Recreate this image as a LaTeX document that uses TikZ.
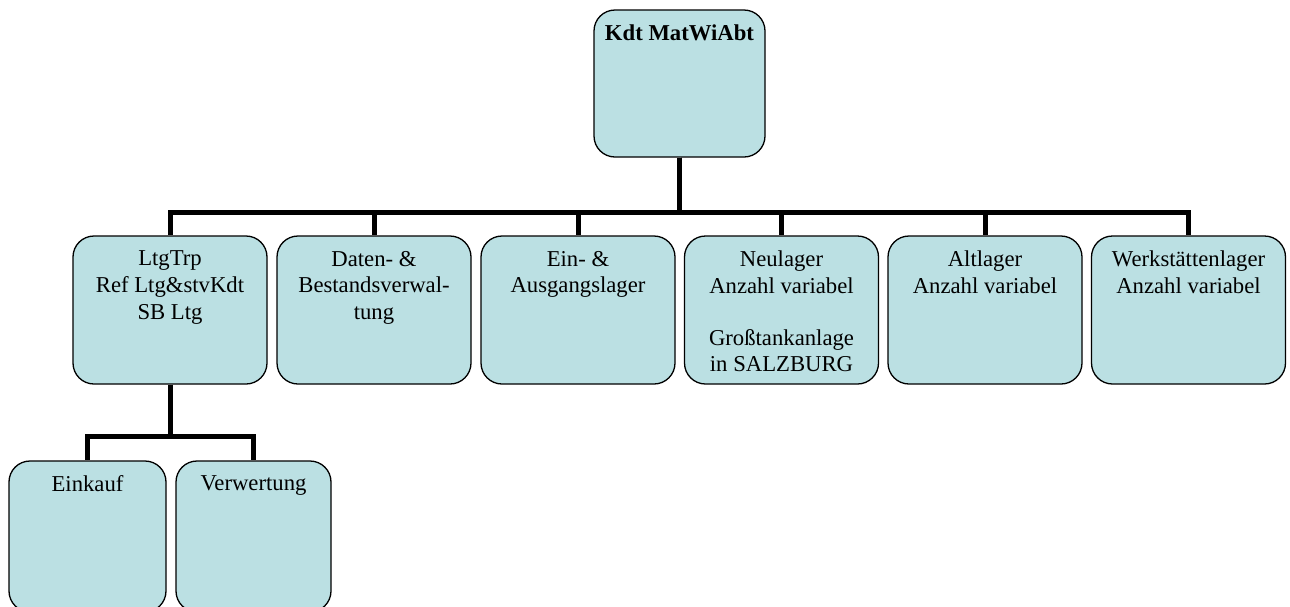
\documentclass[tikz,border=0pt]{standalone}
\usepackage{fontspec}
\setmainfont{Liberation Serif}
\definecolor{boxfill}{RGB}{187,224,227}
\begin{document}
\begin{tikzpicture}[x=1pt,y=-1pt,
  box/.style={draw=black, line width=1.3pt, fill=boxfill, rounded corners=21pt, inner sep=0pt},
  lvltwo/.style={box, minimum width=194pt, minimum height=148pt},
  lbl/.style={anchor=north, inner sep=0pt, align=center, font=\fontsize{22.7}{26.7}\selectfont},
  conn/.style={line width=5pt, draw=black}]
\useasboundingbox (0,0) rectangle (1290,606);

% bus lines
\coordinate (bus) at (0,212.5);
\coordinate (busb) at (0,436.5);

% head
\node[box, minimum width=171pt, minimum height=147pt] (kdt) at (679.5,83.5) {};
\node[lbl, font=\fontsize{22.7}{26.7}\selectfont\bfseries] (kdtl) at ([yshift=-15pt]kdt.north) {Kdt MatWiAbt};

% second level
\node[lvltwo] (ltg) at (170,310) {};
\node[lvltwo] (dat) at (374,310) {};
\node[lvltwo] (ein) at (578,310) {};
\node[lvltwo] (neu) at (781.5,310) {};
\node[lvltwo] (alt) at (985,310) {};
\node[lvltwo] (wst) at (1188.5,310) {};

\node[lbl] (ltgl) at ([yshift=-15.5pt]ltg.north) {LtgTrp\\Ref Ltg\&stvKdt\\SB Ltg};
\node[lbl] (datl) at ([yshift=-15.5pt]dat.north) {Daten- \&\\Bestandsverwal-\\tung};
\node[lbl] (einl) at ([yshift=-15.5pt]ein.north) {Ein- \&\\Ausgangslager};
\node[lbl] (neul) at ([yshift=-15.5pt]neu.north) {Neulager\\Anzahl variabel\\[25pt]Großtankanlage\\in SALZBURG};
\node[lbl] (altl) at ([yshift=-15.5pt]alt.north) {Altlager\\Anzahl variabel};
\node[lbl] (wstl) at ([yshift=-15.5pt]wst.north) {Werkstättenlager\\Anzahl variabel};

% third level (runs past the lower edge)
\node[box, minimum width=157pt, minimum height=151pt] (eink) at (87.5,536.5) {};
\node[box, minimum width=155pt, minimum height=151pt] (verw) at (253.5,536.5) {};
\node[lbl] (einkl) at ([yshift=-15pt]eink.north) {Einkauf};
\node[lbl] (verwl) at ([yshift=-15pt]verw.north) {Verwertung};

% connectors
\foreach \c in {ltg,dat,ein,neu,alt,wst}
  \draw[conn] (kdt.south) -- (kdt.south |- bus) -| (\c.north);
\foreach \c in {eink,verw}
  \draw[conn] (ltg.south) -- (ltg.south |- busb) -| (\c.north);
\end{tikzpicture}
\end{document}
